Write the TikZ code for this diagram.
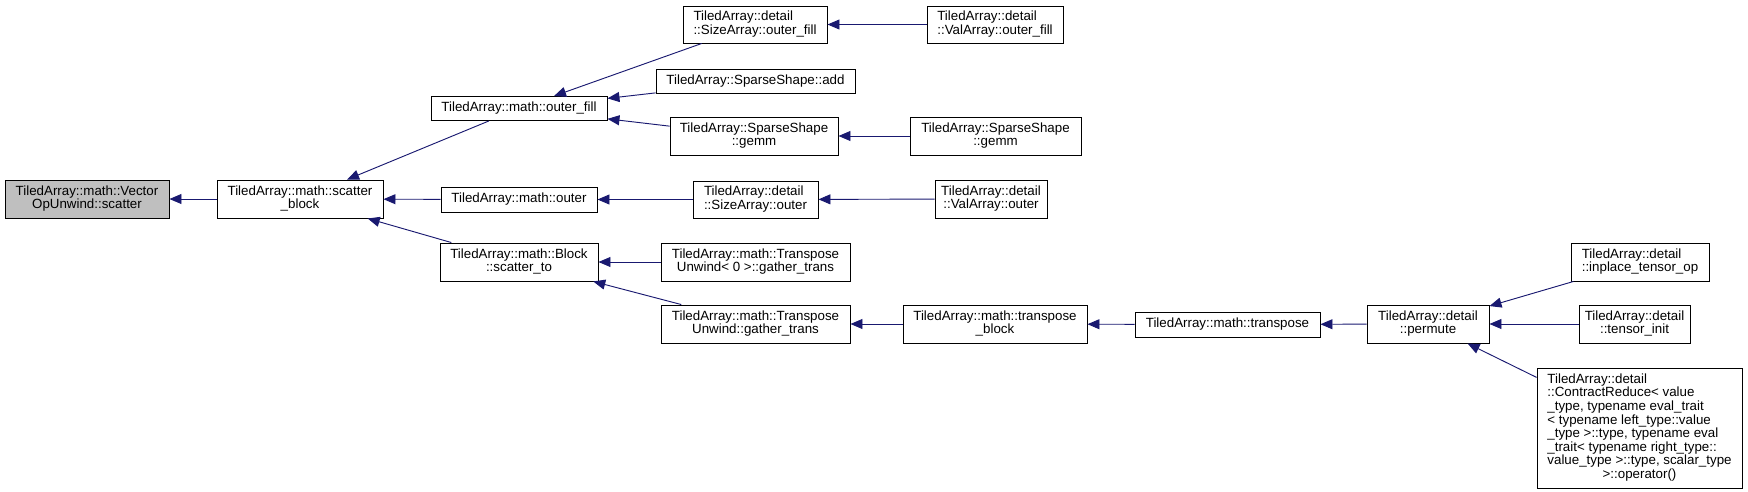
\documentclass[tikz,border=0pt]{standalone}
\usepackage{fontspec}
\setmainfont{Liberation Sans}
\usetikzlibrary{arrows.meta}
\definecolor{edge}{HTML}{191970}
\definecolor{focus}{HTML}{BFBFBF}
% first lines flush left, last line centred
\newcommand{\dlabel}[2]{\begin{tabular}{@{}l@{}}#1\\\multicolumn{1}{@{}c@{}}{#2}\end{tabular}}

\begin{document}
\begin{tikzpicture}[x=.75pt,y=-.75pt,
    fn/.style={draw=black,line width=.7pt,fill=white,inner sep=0pt,
      font=\fontsize{10}{10}\selectfont},
    sz/.style 2 args={minimum width=#1*.75pt,minimum height=#2*.75pt},
    call/.style={edge,line width=.7pt,{Triangle[length=9pt,width=7.5pt]}-}]
  \useasboundingbox (0,0) rectangle (1748,492);

  \node[fn,sz={164}{38},fill=focus] (scatter) at (87,199)
    {\dlabel{TiledArray::math::Vector}{OpUnwind::scatter}};
  \node[fn,sz={166}{38}] (scatterblock) at (300,199)
    {\dlabel{TiledArray::math::scatter}{\_block}};

  \node[fn,sz={176}{24}] (outerfill) at (519,108.5)
    {TiledArray::math::outer\_fill};
  \node[fn,sz={156}{25}] (outer) at (519,199.5)
    {TiledArray::math::outer};
  \node[fn,sz={158}{38}] (scatterto) at (519,262)
    {\dlabel{TiledArray::math::Block}{::scatter\_to}};

  \node[fn,sz={144}{37}] (sizeouterfill) at (755,24.5)
    {\dlabel{TiledArray::detail}{::SizeArray::outer\_fill}};
  \node[fn,sz={199}{24}] (shapeadd) at (755.5,81.5)
    {TiledArray::SparseShape::add};
  \node[fn,sz={168}{38}] (shapegemm) at (754,136)
    {\dlabel{TiledArray::SparseShape}{::gemm}};
  \node[fn,sz={125}{37}] (sizeouter) at (755.5,199.5)
    {\dlabel{TiledArray::detail}{::SizeArray::outer}};
  \node[fn,sz={189}{38}] (gatherzero) at (755.5,262)
    {\dlabel{TiledArray::math::Transpose}{Unwind< 0 >::gather\_trans}};
  \node[fn,sz={189}{38}] (gather) at (755.5,324)
    {\dlabel{TiledArray::math::Transpose}{Unwind::gather\_trans}};

  \node[fn,sz={136}{37}] (valouterfill) at (995,24.5)
    {\dlabel{TiledArray::detail}{::ValArray::outer\_fill}};
  \node[fn,sz={171}{38}] (valgemm) at (995.5,136)
    {\dlabel{TiledArray::SparseShape}{::gemm}};
  \node[fn,sz={112}{38}] (valouter) at (991,199)
    {\dlabel{TiledArray::detail}{::ValArray::outer}};
  \node[fn,sz={184}{38}] (transblock) at (995,324)
    {\dlabel{TiledArray::math::transpose}{\_block}};

  \node[fn,sz={185}{25}] (transpose) at (1227.5,324.5)
    {TiledArray::math::transpose};
  \node[fn,sz={122}{38}] (permute) at (1428,324)
    {\dlabel{TiledArray::detail}{::permute}};

  \node[fn,sz={138}{38}] (inplace) at (1640,262)
    {\dlabel{TiledArray::detail}{::inplace\_tensor\_op}};
  \node[fn,sz={111}{38}] (tensorinit) at (1634.5,324)
    {\dlabel{TiledArray::detail}{::tensor\_init}};
  \node[fn,sz={205}{120}] (contract) at (1639.5,428)
    {\dlabel{TiledArray::detail\\::ContractReduce< value\\
      \_type, typename eval\_trait\\< typename left\_type::value\\
      \_type >::type, typename eval\\\_trait< typename right\_type::\\
      value\_type >::type, scalar\_type}{>::operator()}};

  % callers point back at the callee
  \draw[call] (scatter) -- (scatterblock);
  \draw[call] (scatterblock) -- (outerfill);
  \draw[call] (scatterblock) -- (outer);
  \draw[call] (scatterblock) -- (scatterto);
  \draw[call] (outerfill) -- (sizeouterfill);
  \draw[call] (outerfill) -- (shapeadd);
  \draw[call] (outerfill) -- (shapegemm);
  \draw[call] (sizeouterfill) -- (valouterfill);
  \draw[call] (shapegemm) -- (valgemm);
  \draw[call] (outer) -- (sizeouter);
  \draw[call] (sizeouter) -- (valouter);
  \draw[call] (scatterto) -- (gatherzero);
  \draw[call] (scatterto) -- (gather);
  \draw[call] (gather) -- (transblock);
  \draw[call] (transblock) -- (transpose);
  \draw[call] (transpose) -- (permute);
  \draw[call] (permute) -- (inplace);
  \draw[call] (permute) -- (tensorinit);
  \draw[call] (permute) -- (contract);
\end{tikzpicture}
\end{document}
